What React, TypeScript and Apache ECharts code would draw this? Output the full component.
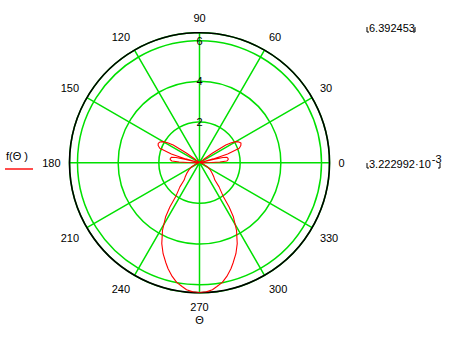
import { useEffect, useRef } from "react";
import * as echarts from "echarts";

// Radial range shown by the plot
const R_MAX = 6.392453;
const R_MAX_TEXT = "6.392453";
const R_MIN_TEXT = "3.222992·10";
const R_MIN_EXP = "-3";
const RADIUS_TICK_STEP = 2;
const ANGLE_TICK_STEP = 30;
const LEGEND_TEXT = "f(Θ )";
const AXIS_TEXT = "Θ";

// f(Θ), Θ in degrees (0 = right, counter-clockwise)
const q1Theta = [0, 1, 2, 3.5, 6, 8.5, 11, 12.5, 13.5, 14.5, 15.5, 17.2, 20, 22.5, 25.5, 28, 30, 32, 34, 36.3, 38, 40, 50, 60, 70, 80, 90];
const q1R = [0.03, 0.6, 1.0, 1.34, 1.42, 1.42, 1.38, 1.18, 0.7, 0.05, 0.7, 1.45, 2.08, 2.2, 2.26, 2.18, 2.07, 1.85, 1.56, 0.78, 0.25, 0.05, 0.03, 0.04, 0.03, 0.04, 0.03];

const q2Theta = [100, 110, 120, 130, 140, 142, 143.7, 146, 148, 150, 152.5, 155, 157.5, 160, 162.8, 164.5, 165.5, 166.5, 167.5, 169, 171.5, 174, 176.5, 178, 179, 180];
const q2R = [0.04, 0.03, 0.04, 0.03, 0.05, 0.25, 0.78, 1.56, 1.85, 2.07, 2.2, 2.24, 2.2, 2.08, 1.45, 0.7, 0.05, 0.7, 1.18, 1.4, 1.45, 1.45, 1.36, 1.0, 0.6, 0.03];

const q3Theta = [190, 196, 202, 207, 214, 220, 225, 228.5, 231, 235, 236.2, 238, 241.3, 245, 248.2, 251.5, 253.5, 256.5, 259.2, 262, 264.2, 267, 270];
const q3R = [0.04, 0.1, 0.25, 0.43, 0.62, 0.82, 1.0, 1.14, 1.53, 2.05, 2.62, 3.15, 3.79, 4.39, 4.82, 5.2, 5.44, 5.75, 5.99, 6.15, 6.28, 6.36, 6.39];

const q4Theta = [273, 275.8, 278, 280.8, 283.5, 286.5, 288.5, 291.8, 295, 298.7, 302, 303.8, 305, 309, 311.5, 315, 320, 327, 333, 338, 344, 350, 360];
const q4R = [6.36, 6.28, 6.15, 5.99, 5.75, 5.44, 5.2, 4.82, 4.39, 3.79, 3.15, 2.62, 2.05, 1.53, 1.14, 1.0, 0.82, 0.62, 0.43, 0.25, 0.1, 0.04, 0.03];

const GREEN = "#00e000";
const FONT = "'Liberation Sans', Arial, sans-serif";

export default function App() {
  const ref = useRef<HTMLDivElement>(null);
  useEffect(() => {
    const el = ref.current;
    if (!el) return;
    const chart = echarts.init(el, null, { renderer: "svg" });
    const theta = [...q1Theta, ...q2Theta, ...q3Theta, ...q4Theta];
    const rad = [...q1R, ...q2R, ...q3R, ...q4R];
    // axis value v sits at screen angle 90 + v (startAngle 90, counter-clockwise)
    const data = theta.map((t, i) => [rad[i], (((t - 90) % 360) + 360) % 360]);

    const bracket = (x: number, y0: number, y1: number, dir: number) => ({
      type: "polyline",
      shape: { points: [[x, y0], [x, y1], [x + dir * 2, y1]] },
      style: { stroke: "#000", lineWidth: 1, fill: null },
      silent: true,
    });

    chart.setOption({
      animation: false,
      backgroundColor: "#fff",
      polar: { center: [199.5, 162.7], radius: 130 },
      angleAxis: {
        type: "value",
        min: 0,
        max: 360,
        interval: ANGLE_TICK_STEP,
        startAngle: 90,
        clockwise: false,
        axisLine: { show: true, lineStyle: { color: "#000", width: 1.6 } },
        axisTick: { show: false },
        axisLabel: {
          formatter: (v: number) => String((v + 90) % 360),
          color: "#000",
          fontSize: 11,
          fontFamily: FONT,
          margin: 9,
        },
        splitLine: { show: true, lineStyle: { color: GREEN, width: 1.5 } },
      },
      radiusAxis: {
        type: "value",
        min: 0,
        max: R_MAX,
        interval: RADIUS_TICK_STEP,
        axisLine: { show: false },
        axisTick: { show: false },
        axisLabel: {
          showMinLabel: false,
          showMaxLabel: false,
          color: "#000",
          fontSize: 11,
          fontFamily: FONT,
          margin: 0,
          align: "center",
          verticalAlign: "middle",
        },
        splitLine: { show: true, lineStyle: { color: GREEN, width: 1.5 } },
      },
      series: [
        {
          type: "line",
          coordinateSystem: "polar",
          data,
          symbol: "none",
          showSymbol: false,
          lineStyle: { color: "#ff0000", width: 1.1 },
          z: 5,
        },
      ],
      graphic: [
        {
          type: "text",
          left: 6,
          top: 150,
          style: { text: LEGEND_TEXT, fontSize: 11, fontFamily: FONT, fill: "#000" },
        },
        {
          type: "line",
          shape: { x1: 5, y1: 169, x2: 33, y2: 169 },
          style: { stroke: "#ff0000", lineWidth: 1.4 },
        },
        {
          type: "text",
          x: 199.5,
          y: 319.5,
          style: { text: AXIS_TEXT, fontSize: 11, fontFamily: FONT, fill: "#000", align: "center", verticalAlign: "middle" },
        },
        {
          type: "text",
          x: 369,
          y: 27.5,
          style: { text: R_MAX_TEXT, fontSize: 11, fontFamily: FONT, fill: "#000", align: "left", verticalAlign: "middle" },
        },
        bracket(367, 27, 32, 1),
        bracket(415, 27, 32, -1),
        {
          type: "text",
          x: 369,
          y: 163.5,
          style: {
            text: `${R_MIN_TEXT}{s|${R_MIN_EXP}}`,
            fontSize: 11,
            fontFamily: FONT,
            fill: "#000",
            align: "left",
            verticalAlign: "middle",
            rich: { s: { fontSize: 11, fontFamily: FONT, verticalAlign: "top", padding: [0, 0, 10, 1] } },
          },
        },
        bracket(367, 163, 168, 1),
        bracket(440, 163, 168, -1),
      ],
    });
    return () => chart.dispose();
  }, []);
  return <div ref={ref} style={{ position: "fixed", left: 0, top: 0, width: 451, height: 342 }} />;
}
